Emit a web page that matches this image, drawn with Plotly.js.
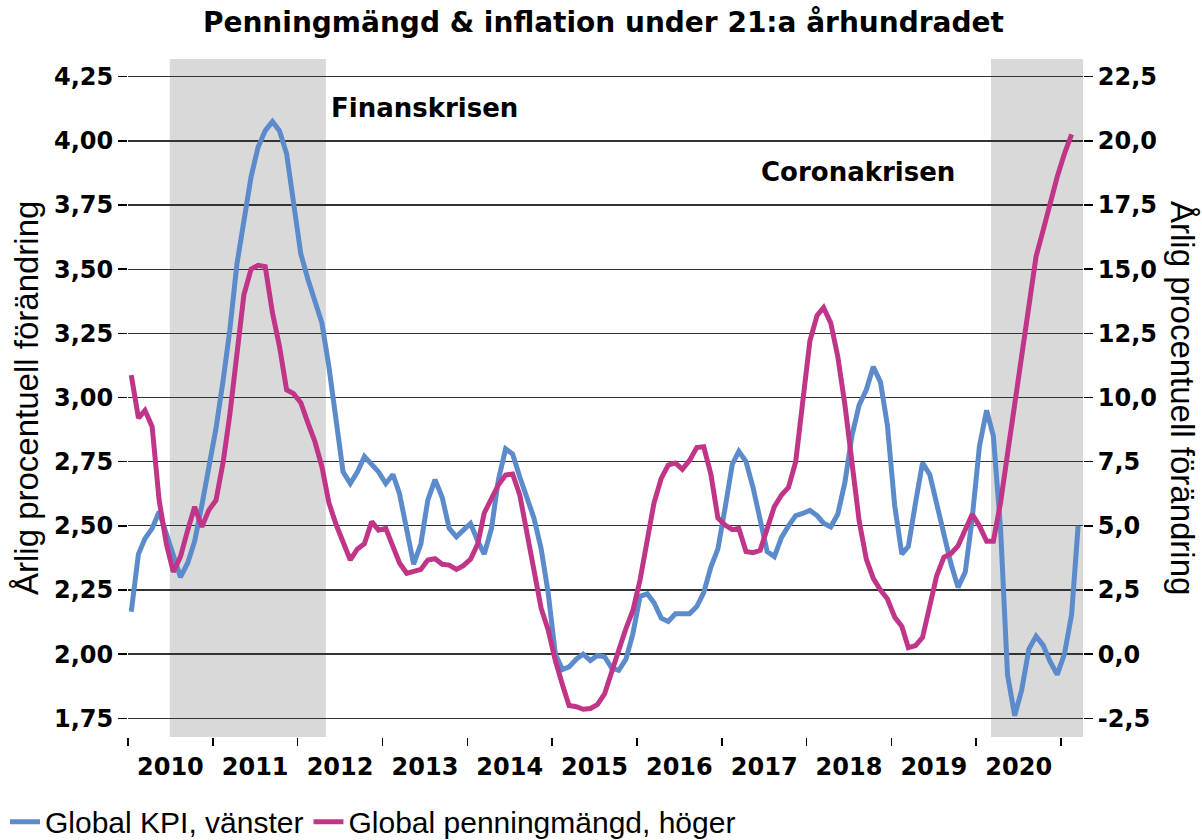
<!DOCTYPE html>
<html>
<head>
<meta charset="utf-8">
<script src="https://cdn.plot.ly/plotly-3.0.1.min.js"></script>
<style>
html,body{margin:0;padding:0;background:#fff;}
#chart{width:1202px;height:840px;}
</style>
</head>
<body>
<div id="chart"></div>
<script>
// Monthly series, first observation January 2010
const startYear = 2010;
const kpi = [2.165, 2.39, 2.45, 2.49, 2.555, 2.47, 2.39, 2.30, 2.355, 2.44,
  2.58, 2.73, 2.88, 3.07, 3.26, 3.52, 3.69, 3.86, 3.975, 4.04,
  4.075, 4.04, 3.95, 3.74, 3.56, 3.46, 3.38, 3.29, 3.12, 2.91,
  2.71, 2.665, 2.71, 2.77, 2.74, 2.71, 2.665, 2.70, 2.625, 2.48,
  2.35, 2.43, 2.60, 2.68, 2.61, 2.49, 2.457, 2.483, 2.509, 2.44,
  2.39, 2.49, 2.68, 2.80, 2.78, 2.69, 2.61, 2.53, 2.41, 2.24,
  2.0, 1.94, 1.95, 1.98, 2.0, 1.975, 1.995, 1.99, 1.945, 1.937,
  1.98, 2.08, 2.225, 2.235, 2.2, 2.14, 2.127, 2.157, 2.157, 2.157,
  2.185, 2.24, 2.34, 2.41, 2.57, 2.74, 2.79, 2.75, 2.65, 2.52,
  2.40, 2.38, 2.455, 2.50, 2.54, 2.548, 2.56, 2.54, 2.51, 2.496,
  2.545, 2.67, 2.85, 2.97, 3.03, 3.12, 3.06, 2.89, 2.58, 2.39,
  2.42, 2.59, 2.745, 2.70, 2.59, 2.46, 2.35, 2.26, 2.32, 2.53,
  2.81, 2.95, 2.85, 2.49, 1.92, 1.76, 1.86, 2.02, 2.07, 2.035,
  1.97, 1.92, 2.00, 2.155, 2.50];
const penning = [10.87, 9.2, 9.5, 8.86, 6.0, 4.3, 3.2, 3.8, 4.83, 5.74,
  4.96, 5.61, 6.0, 7.5, 9.3, 11.6, 14.0, 15.0, 15.15, 15.1,
  13.3, 12.0, 10.3, 10.15, 9.8, 9.0, 8.3, 7.3, 5.9, 5.05,
  4.35, 3.67, 4.1, 4.3, 5.16, 4.83, 4.9, 4.2, 3.55, 3.15,
  3.22, 3.3, 3.67, 3.72, 3.5, 3.47, 3.3, 3.45, 3.7, 4.3,
  5.5, 6.05, 6.6, 6.98, 7.02, 6.2, 4.7, 3.05, 1.78, 0.95,
  -0.25, -1.2, -2.0, -2.05, -2.15, -2.12, -1.97, -1.55, -0.6, 0.15,
  1.0, 1.7, 2.9, 4.4, 5.9, 6.85, 7.37, 7.45, 7.2, 7.55,
  8.05, 8.08, 7.0, 5.3, 5.03, 4.85, 4.9, 4.0, 3.95, 4.05,
  4.9, 5.75, 6.2, 6.5, 7.5, 9.9, 12.2, 13.2, 13.5, 12.9,
  11.6, 9.7, 7.6, 5.2, 3.7, 2.95, 2.5, 2.15, 1.45, 1.08,
  0.25, 0.33, 0.65, 1.88, 3.05, 3.77, 3.92, 4.22, 4.85, 5.45,
  5.0, 4.4, 4.4, 5.9, 7.8, 9.8, 11.7, 13.7, 15.5, 16.5,
  17.6, 18.6, 19.5, 20.25];
const crisisStart = ['2010-06-30', '2020-03-05'];
const crisisEnd = ['2012-05-02', '2021-04-05'];
const crisisLabels = ['Finanskrisen', 'Coronakrisen'];
const leftTicks = [1.75, 2.00, 2.25, 2.50, 2.75, 3.00, 3.25, 3.50, 3.75, 4.00, 4.25];
const rightTicks = [-2.5, 0, 2.5, 5, 7.5, 10, 12.5, 15, 17.5, 20, 22.5];
const fmt = (v, d) => v.toFixed(d).replace('.', ',');

function monthDates(n) {
  const out = [];
  for (let i = 0; i < n; i++) {
    const y = startYear + Math.floor(i / 12);
    const m = (i % 12) + 1;
    out.push(y + '-' + String(m).padStart(2, '0') + '-15');
  }
  return out;
}

const boldFont = 'DejaVu Sans, Liberation Sans, Arial, sans-serif';
const regFont = 'Liberation Sans, Arial, sans-serif';

const traces = [
  {
    x: monthDates(kpi.length), y: kpi, type: 'scatter', mode: 'lines',
    name: 'Global KPI, vänster', yaxis: 'y',
    line: {color: '#5B8BCA', width: 5}
  },
  {
    x: monthDates(penning.length), y: penning, type: 'scatter', mode: 'lines',
    name: 'Global penningmängd, höger', yaxis: 'y2',
    line: {color: '#C13589', width: 5}
  }
];

const shapes = crisisStart.map((s, i) => ({
  type: 'rect', xref: 'x', yref: 'paper', x0: s, x1: crisisEnd[i], y0: 0, y1: 1,
  fillcolor: '#D9D9D9', line: {width: 0}, layer: 'below'
}));

const layout = {
  width: 1202, height: 840,
  margin: {l: 128, r: 119, t: 59, b: 103, autoexpand: false},
  paper_bgcolor: '#fff', plot_bgcolor: 'rgba(0,0,0,0)',
  title: {
    text: 'Penningmängd & inflation under 21:a århundradet',
    font: {family: boldFont, size: 28, color: '#000', weight: 'bold'},
    x: 0.502, xanchor: 'center', y: 0.974, yanchor: 'middle', xref: 'container', yref: 'container'
  },
  xaxis: {
    type: 'date', range: ['2010-01-01', '2021-04-05'],
    tick0: '2010-01-01', dtick: 'M12', ticklabelmode: 'period', tickformat: '%Y',
    ticks: 'outside', ticklen: 8, tickwidth: 1.5, tickcolor: '#000',
    showgrid: false, showline: false, zeroline: false,
    tickfont: {family: boldFont, size: 24, color: '#000', weight: 'bold'}
  },
  yaxis: {
    range: [1.677, 4.319], tickvals: leftTicks, ticktext: leftTicks.map(v => fmt(v, 2)),
    ticks: 'outside', ticklen: 9, tickwidth: 1.5, tickcolor: '#000',
    showgrid: true, gridcolor: '#333', gridwidth: 1.3, zeroline: false, showline: false,
    tickfont: {family: boldFont, size: 24, color: '#000', weight: 'bold'}
  },
  yaxis2: {
    range: [-3.229, 23.19], tickvals: rightTicks, ticktext: rightTicks.map(v => fmt(v, 1)),
    overlaying: 'y', side: 'right',
    ticks: 'outside', ticklen: 9, tickwidth: 1.5, tickcolor: '#000',
    showgrid: false, zeroline: false, showline: false,
    tickfont: {family: boldFont, size: 24, color: '#000', weight: 'bold'}
  },
  shapes: shapes,
  showlegend: true,
  legend: {
    orientation: 'h', x: -0.1288, xanchor: 'left', y: -0.125, yanchor: 'middle',
    font: {family: regFont, size: 30, color: '#000'}, bgcolor: 'rgba(0,0,0,0)',
    itemwidth: 30, tracegroupgap: 0
  },
  annotations: [
    {text: crisisLabels[0], xref: 'paper', yref: 'paper', x: 0.31, y: 0.9277, showarrow: false,
     xanchor: 'center', yanchor: 'middle',
     font: {family: boldFont, size: 26, color: '#000', weight: 'bold'}},
    {text: crisisLabels[1], xref: 'paper', yref: 'paper', x: 0.7644, y: 0.8333, showarrow: false,
     xanchor: 'center', yanchor: 'middle',
     font: {family: boldFont, size: 26, color: '#000', weight: 'bold'}},
    {text: 'Årlig procentuell förändring', xref: 'paper', yref: 'paper', x: -0.1068, y: 0.5,
     xanchor: 'center', yanchor: 'middle',
     textangle: -90, showarrow: false, font: {family: regFont, size: 33, color: '#000'}},
    {text: 'Årlig procentuell förändring', xref: 'paper', yref: 'paper', x: 1.1047, y: 0.5,
     xanchor: 'center', yanchor: 'middle',
     textangle: 90, showarrow: false, font: {family: regFont, size: 33, color: '#000'}}
  ]
};

Plotly.newPlot('chart', traces, layout, {displayModeBar: false, staticPlot: true});
</script>
</body>
</html>
